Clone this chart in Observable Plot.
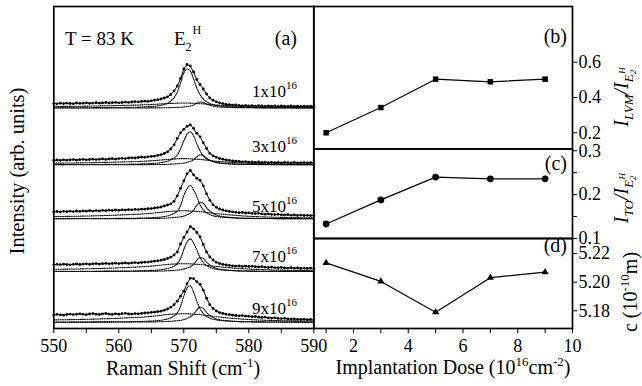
<!DOCTYPE html>
<html><head><meta charset="utf-8">
<script src="https://cdn.jsdelivr.net/npm/d3@7"></script>
<script src="https://cdn.jsdelivr.net/npm/@observablehq/plot@0.6"></script>
<style>
html,body{margin:0;padding:0;background:#fff;}
#chart{position:relative;width:642px;height:386px;overflow:hidden;background:#fff;}
#chart svg{position:absolute;left:0;top:0;}
</style></head><body><div id="chart"></div>
<script>
// ---------- data ----------
const ramanShift = [550,550.5,551,551.5,552,552.5,553,553.5,554,554.5,555,555.5,556,556.5,557,557.5,558,558.5,559,559.5,
 560,560.5,561,561.5,562,562.5,563,563.5,564,564.5,565,565.5,566,566.5,567,567.5,568,568.5,569,569.5,
 570,570.5,571,571.5,572,572.5,573,573.5,574,574.5,575,575.5,576,576.5,577,577.5,578,578.5,579,579.5,
 580,580.5,581,581.5,582,582.5,583,583.5,584,584.5,585,585.5,586,586.5,587,587.5,588,588.5,589,589.5,590];
const ramanTicks = [550,555,560,565,570,575,580,585,590];
const doseLabels = ["1x10","3x10","5x10","7x10","9x10"];
const offsets = [220.5,163.7,109.7,57,6.3];

const spec1x = [4.6,4.2,4.8,4.4,4.9,4.5,4.3,5.0,4.6,4.8,5.2,4.7,4.9,5.3,4.8,5.1,5.5,5.0,5.3,5.6,
 5.2,5.5,5.9,5.6,6.0,6.3,6.1,6.5,6.8,6.7,7.2,7.8,8.3,9.0,10.0,11.2,13.5,17.0,22.0,29.5,
 39.0,43.5,42.0,36.0,28.5,23.5,19.0,14.0,10.0,7.8,6.2,5.2,4.4,3.6,3.3,2.8,3.0,2.5,2.2,2.6,
 2.1,2.4,1.9,2.3,2.0,1.7,2.2,1.8,2.1,1.6,2.0,1.8,1.5,2.0,1.7,1.9,1.5,1.8,1.6,1.9,1.7];
const spec3x = [4.4,4.8,4.5,5.0,4.6,4.9,5.2,4.7,5.1,5.4,5.0,5.3,5.6,5.2,5.5,5.9,5.4,5.8,6.1,5.7,
 6.2,6.5,6.2,6.8,7.0,6.8,7.3,7.7,7.5,8.0,8.4,8.7,9.4,10.2,11.3,13.0,15.8,20.0,26.5,32.0,
 35.5,38.5,40.0,36.5,31.5,28.0,22.0,16.5,11.5,9.0,7.5,6.3,5.6,4.8,4.5,3.9,3.6,3.4,3.0,3.2,
 2.7,2.9,2.5,2.8,2.3,2.6,2.2,2.5,2.1,2.4,2.0,2.3,2.1,1.9,2.3,2.0,1.8,2.2,1.9,2.1,1.8];
const spec5x = [6.8,7.3,6.9,7.5,7.1,7.6,7.2,7.8,7.4,7.9,7.6,8.1,7.7,8.2,7.9,8.4,8.1,8.6,8.3,8.8,
 8.5,9.0,8.7,9.2,9.0,9.5,9.2,9.7,9.6,10.1,10.2,10.8,11.2,11.8,12.8,13.8,15.0,17.5,23.0,30.5,
 38.0,45.0,48.3,44.0,40.5,38.5,33.0,25.0,18.5,14.0,11.5,9.8,8.8,8.0,7.4,7.0,6.5,6.1,6.3,5.8,
 6.0,5.5,5.2,5.5,4.9,4.6,4.9,4.4,4.2,4.5,4.0,3.8,4.1,3.6,3.8,3.4,3.7,3.3,3.5,3.2,3.4];
const spec7x = [6.7,7.2,6.8,7.3,7.0,6.6,7.2,7.5,7.0,7.4,7.7,7.2,7.6,7.9,7.4,7.8,8.1,7.7,8.0,8.3,
 7.9,8.3,8.6,8.2,8.6,8.9,8.6,9.0,9.3,9.4,9.9,10.3,10.7,11.3,12.0,13.0,14.3,16.5,19.5,27.5,
 34.0,39.5,45.0,42.7,39.0,34.5,27.0,19.5,14.5,11.5,9.2,8.0,7.1,6.6,6.1,5.7,5.4,5.6,5.1,5.4,
 5.0,5.3,4.8,4.5,4.8,4.3,4.0,4.4,3.9,3.7,4.1,3.6,3.4,3.8,3.3,3.6,3.1,3.4,3.0,3.3,2.9];
const spec9x = [7.2,7.8,7.4,7.0,7.7,8.1,7.6,8.0,8.4,7.9,7.5,8.2,8.6,8.0,7.7,8.3,8.7,8.1,7.8,8.4,
 8.0,8.5,8.9,8.3,8.1,8.6,8.4,8.8,9.2,9.4,9.8,10.1,10.5,11.0,12.0,13.2,15.0,17.5,21.0,26.0,
 31.0,38.5,44.0,43.6,40.5,37.8,32.0,24.0,17.5,13.8,11.2,9.6,8.7,8.0,7.5,7.0,6.7,6.4,6.6,6.1,
 6.0,5.5,5.7,5.0,4.7,5.0,4.4,4.1,4.4,3.8,3.6,3.9,3.3,3.1,3.4,2.9,2.7,3.0,2.5,2.8,2.4];

// fitted components (dotted)
const mainGrid = [550,560,565,567,568,569,569.5,570,570.5,571,571.5,572,572.5,573,574,575,577,580,590];
const e2h1x = [0.2,0.5,1.5,3.5,7,16,25,35,39,37,29,20,13.5,9,4.5,2.5,1.2,0.5,0.1];
const e2h3x = [0.2,0.5,1.3,2.8,5,10,16,24,30.5,33,29,21,14,9,4.5,2.5,1.2,0.5,0.1];
const e2h5x = [0.2,0.4,1.1,2.3,4,8,13,23,30,33.3,29,22,14,9,4.2,2.3,1.1,0.4,0.1];
const e2h7x = [0.2,0.4,1.1,2.3,4,8,13,22,29.5,32.7,28.5,21.5,14,9,4.2,2.3,1.1,0.4,0.1];
const e2h9x = [0.2,0.4,1.2,2.5,4.5,9.5,16,26,34,36.5,30,21,13.5,8.7,4.2,2.3,1.1,0.4,0.1];
const lvmGrid = [550,565,569,570.5,571.5,572,572.5,573,573.5,574.5,576,580,590];
const lvm1x = [0,0.1,0.6,1.5,3,4.8,6,5.6,4,2,0.8,0.2,0];
const lvm3x = [0,0.2,1,2.5,5,8,10,9.3,6.7,3.3,1.3,0.3,0];
const lvm5x = [0,0.3,1.6,4,8.5,13.5,16.6,15.5,11,5.5,2.2,0.5,0];
const lvm7x = [0,0.3,1.4,3.5,7,11.3,14,13,9.3,4.6,1.8,0.4,0];
const lvm9x = [0,0.3,1.5,3.8,7.8,12.3,15,13.8,9.8,4.8,1.9,0.4,0];
const toGrid = [550,560,565,568,570,572,575,578,582,590];
const to1x = [1.5,2.5,3.5,4.6,5.0,4.6,3.0,1.8,1.0,0.5];
const to3x = [1.6,2.8,4.0,5.6,6.2,5.6,3.6,2.2,1.2,0.6];
const to5x = [2.2,3.8,5.5,7.5,8.0,7.4,5.2,3.4,2.0,1.0];
const to7x = [2.2,3.7,5.4,7.3,7.8,7.2,5.0,3.3,1.9,1.0];
const to9x = [2.3,4.0,5.8,8.0,8.5,7.8,5.5,3.6,2.1,1.1];

// right panels
const dose = [1,3,5,7,9];
const doseTicks = [1,2,3,4,5,6,7,8,9,10];
const lvmRatio = [0.200,0.343,0.504,0.489,0.504];
const toRatio = [0.133,0.188,0.240,0.236,0.236];
const cLattice = [5.2135,5.2005,5.1790,5.2031,5.2070];

// ---------- build ----------
const W = 642, H = 386;
const font = "'Liberation Serif','Times New Roman',serif";
const chart = document.getElementById("chart");
const baseStyle = {fontFamily: font, fontSize: "18px", background: "transparent", overflow: "visible", color: "#000"};

const spectra = [spec1x, spec3x, spec5x, spec7x, spec9x];
const e2h = [e2h1x, e2h3x, e2h5x, e2h7x, e2h9x];
const lvm = [lvm1x, lvm3x, lvm5x, lvm7x, lvm9x];
const tox = [to1x, to3x, to5x, to7x, to9x];

const dataRows = spectra.flatMap((s, k) => ramanShift.map((x, i) => ({x, y: offsets[k] + s[i], k})));
const compRows = [];
spectra.forEach((_, k) => {
  mainGrid.forEach((x, i) => compRows.push({x, y: offsets[k] + e2h[k][i], g: k + "m"}));
  lvmGrid.forEach((x, i) => compRows.push({x, y: offsets[k] + lvm[k][i], g: k + "l"}));
  toGrid.forEach((x, i) => compRows.push({x, y: offsets[k] + tox[k][i], g: k + "t"}));
});

const left = Plot.plot({
  width: W, height: H,
  marginLeft: 53.3, marginRight: W - 313.3, marginTop: 6, marginBottom: 58,
  style: baseStyle,
  x: {domain: [550, 590], ticks: ramanTicks, tickFormat: d => d % 10 === 0 ? String(d) : "", tickSize: 5, tickPadding: 6, label: null},
  y: {domain: [0, 322], axis: null},
  marks: [
    Plot.line(compRows, {x: "x", y: "y", z: "g", stroke: "#000", strokeWidth: 1.1, strokeDasharray: "1,1.2", curve: "monotone-x"}),
    Plot.line(dataRows, {x: "x", y: "y", z: "k", stroke: "#000", strokeWidth: 1}),
    Plot.dot(dataRows, {x: "x", y: "y", r: 1.4, fill: "#000"}),
    Plot.frame({stroke: "#000", strokeWidth: 1.7})
  ]
});
chart.append(left);

const rows = ys => dose.map((d, i) => ({d, v: ys[i]}));
const xRight = {domain: [0.55, 10], axis: null};

const pb = Plot.plot({
  width: W, height: H,
  marginLeft: 313.3, marginRight: W - 572, marginTop: 6, marginBottom: H - 148.5,
  style: baseStyle,
  x: xRight,
  y: {domain: [0.108, 0.916], axis: "right", ticks: [0.2, 0.4, 0.6], tickFormat: d => d.toFixed(1), tickSize: 4, tickPadding: 2, label: null},
  marks: [
    Plot.line(rows(lvmRatio), {x: "d", y: "v", stroke: "#000", strokeWidth: 1.2}),
    Plot.dot(rows(lvmRatio), {x: "d", y: "v", symbol: "square", r: 3.1, fill: "#000"}),
    Plot.frame({stroke: "#000", strokeWidth: 1.7})
  ]
});
chart.append(pb);

const pc = Plot.plot({
  width: W, height: H,
  marginLeft: 313.3, marginRight: W - 572, marginTop: 148.5, marginBottom: H - 238,
  style: baseStyle,
  x: xRight,
  y: {domain: [0.1, 0.304], axis: "right", ticks: [0.1, 0.15, 0.2, 0.25, 0.3], tickFormat: d => Math.round(d * 100) % 10 === 0 ? d.toFixed(1) : "", tickSize: 4, tickPadding: 2, label: null},
  marks: [
    Plot.line(rows(toRatio), {x: "d", y: "v", stroke: "#000", strokeWidth: 1.2}),
    Plot.dot(rows(toRatio), {x: "d", y: "v", symbol: "circle", r: 3.4, fill: "#000"}),
    Plot.frame({stroke: "#000", strokeWidth: 1.7})
  ]
});
chart.append(pc);

const pd = Plot.plot({
  width: W, height: H,
  marginLeft: 313.3, marginRight: W - 572, marginTop: 238, marginBottom: 58,
  style: baseStyle,
  x: {domain: [0.55, 10], ticks: doseTicks, tickFormat: d => d % 2 === 0 ? String(d) : "", tickSize: 5, tickPadding: 6, label: null},
  y: {domain: [5.1676, 5.2305], axis: "right", ticks: [5.18, 5.20, 5.22], tickFormat: d => d.toFixed(2), tickSize: 4, tickPadding: 2, label: null},
  marks: [
    Plot.line(rows(cLattice), {x: "d", y: "v", stroke: "#000", strokeWidth: 1.2}),
    Plot.dot(rows(cLattice), {x: "d", y: "v", symbol: "triangle", r: 2.7, fill: "#000"}),
    Plot.frame({stroke: "#000", strokeWidth: 1.7})
  ]
});
chart.append(pd);

// ---------- text overlay ----------
const ov = d3.select(chart).append("svg").attr("width", W).attr("height", H)
  .style("font-family", font).attr("fill", "#000");
function label(x, y, size, parts, opts = {}) {
  const t = ov.append("text").attr("x", x).attr("y", y).attr("font-size", size);
  if (opts.anchor) t.attr("text-anchor", opts.anchor);
  if (opts.rotate) t.attr("transform", `rotate(-90 ${x} ${y})`);
  if (opts.italic) t.attr("font-style", "italic");
  parts.forEach(p => {
    const s = t.append("tspan").text(p.t);
    if (p.size) s.attr("font-size", p.size);
    if (p.dy) s.attr("dy", p.dy);
    if (p.dx) s.attr("dx", p.dx);
  });
}
const doseBase = [97, 152, 211.5, 262, 314];
doseLabels.forEach((s, i) => label(252, doseBase[i], 17, [{t: s}, {t: "16", size: 11, dy: -8}]));

label(65, 45, 19, [{t: "T = 83 K"}]);
label(174, 45, 19, [{t: "E"}, {t: "2", size: 12, dy: 6}, {t: "H", size: 12, dy: -17, dx: 1}]);
label(297, 45, 20, [{t: "(a)"}], {anchor: "end"});
label(567, 43, 20, [{t: "(b)"}], {anchor: "end"});
label(567, 170, 20, [{t: "(c)"}], {anchor: "end"});
label(567, 252, 20, [{t: "(d)"}], {anchor: "end"});

label(183, 375, 20, [{t: "Raman Shift (cm"}, {t: "-1", size: 13, dy: -8}, {t: ")", dy: 8}], {anchor: "middle"});
label(453, 374, 20, [{t: "Implantation Dose (10"}, {t: "16", size: 13, dy: -8}, {t: "cm", dy: 8}, {t: "-2", size: 13, dy: -8}, {t: ")", dy: 8}], {anchor: "middle"});
label(24, 171, 20.5, [{t: "Intensity (arb. units)"}], {anchor: "middle", rotate: true});

label(628, 97, 20, [{t: "I"}, {t: "LVM", size: 13, dy: 5}, {t: "/I", dy: -5}, {t: "E", size: 13, dy: 5}, {t: "2", size: 9, dy: 3}, {t: "H", size: 9, dy: -11, dx: -4}], {anchor: "middle", rotate: true, italic: true});
label(628, 198, 20, [{t: "I"}, {t: "TO", size: 13, dy: 5}, {t: "/I", dy: -5}, {t: "E", size: 13, dy: 5}, {t: "2", size: 9, dy: 3}, {t: "H", size: 9, dy: -11, dx: -4}], {anchor: "middle", rotate: true, italic: true});
label(637, 292, 20, [{t: "c (10"}, {t: "-10", size: 13, dy: -8}, {t: "m)", dy: 8}], {anchor: "middle", rotate: true});
</script></body></html>
